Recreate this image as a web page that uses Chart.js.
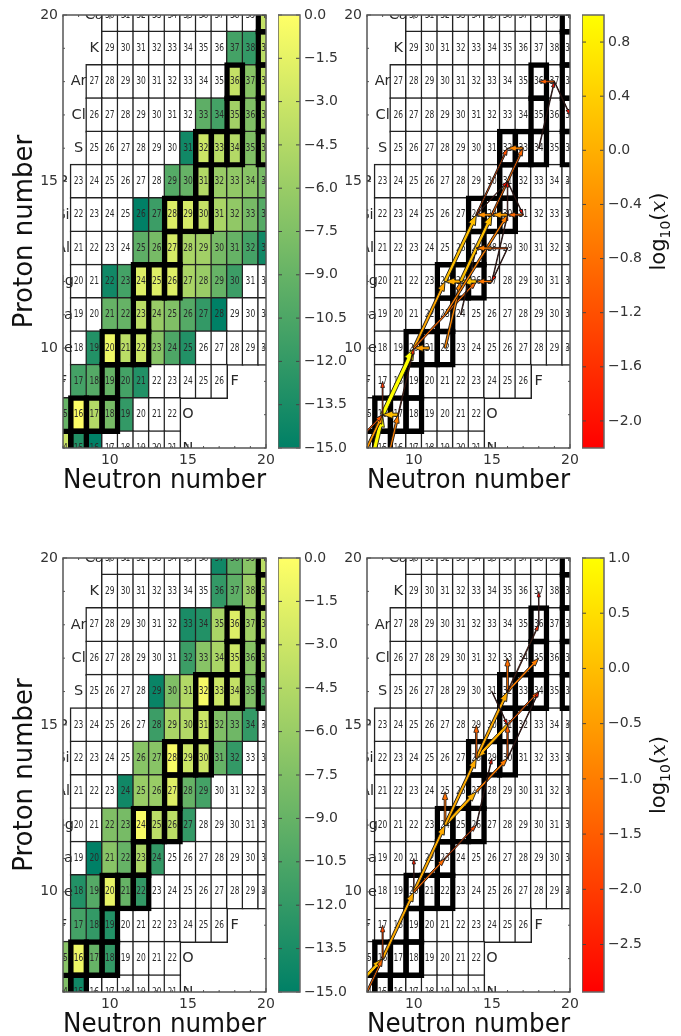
<!DOCTYPE html>
<html>
<head>
<meta charset="utf-8">
<script src="https://cdn.jsdelivr.net/npm/chart.js@4"></script>
<style>
  html, body { margin: 0; padding: 0; background: #fff; overflow: hidden; width: 681px; height: 1036px; }
  canvas { position: absolute; filter: blur(0.6px); }
</style>
</head>
<body>
<script>
// rows of the nuclide chart, top to bottom
const protons = [20, 19, 18, 17, 16, 15, 14, 13, 12, 11, 10, 9, 8, 7];
const firstNeutron = [10, 10, 9, 9, 9, 8, 8, 8, 8, 8, 8, 8, 7, 7];
const lastNeutron = [20, 20, 20, 20, 20, 20, 20, 20, 20, 20, 20, 17, 14, 14];

// stable isotopes get the heavy box
const stableN = [7, 8, 8, 9, 10, 10, 10, 11, 12, 12, 12, 13, 14, 14, 14, 15, 16, 16, 16, 17, 18, 20, 18, 20, 18, 20, 20, 20];
const stableZ = [7, 7, 8, 8, 8, 9, 10, 10, 10, 11, 12, 12, 12, 13, 14, 14, 14, 15, 16, 16, 16, 16, 17, 17, 18, 18, 19, 20];

const elementNames = ['Ca', 'K', 'Ar', 'Cl', 'S', 'P', 'Si', 'Al', 'Mg', 'Na', 'Ne', 'F', 'F', 'O', 'N'];
const elementN = [9, 9, 8, 8, 8, 7, 7, 7, 7, 7, 7, 7, 18, 15, 15];
const elementZ = [20, 19, 18, 17, 16, 15, 14, 13, 12, 11, 10, 9, 9, 8, 7];

// first coloured neutron number per row + log abundance
const topFirst = [20, 18, 18, 16, 15, 14, 12, 12, 10, 10, 9, 8, 7, 7];
const topValues = [
  [-3.5],
  [-11, -12, -4],
  [-3.5, -7, -4],
  [-9.5, -11, -5.5, -7.5, -5],
  [-14, -3, -4, -4.5, -7.5, -6],
  [-10, -9, -4.5, -6, -6.5, -7, -8],
  [-15, -11.5, -2, -2.5, -3.5, -5, -6.5, -8, -10],
  [-9.5, -8, -2.5, -5, -5.5, -8, -9, -11, -14],
  [-14, -11, -2, -2, -2, -5, -6, -9, -11.5],
  [-9, -9, -4, -6, -7.5, -10, -12, -15],
  [-13, -1, -4, -3, -7, -10.5, -13],
  [-11, -10, -9, -11, -13],
  [-9, -0.2, -4.5, -8, -12],
  [-3, -13, -15]
];
const bottomFirst = [17, 17, 15, 15, 13, 13, 12, 11, 10, 9, 8, 8, 7, 7];
const bottomValues = [
  [-14, -9.5, -7, -4],
  [-12, -9.5, -6, -4],
  [-13.5, -13, -5, -2, -5.5, -4],
  [-11.5, -7, -5, -3, -7, -5],
  [-14.5, -7.5, -4.5, -0.5, -3, -3.5, -7.5, -10],
  [-11.5, -5, -4.5, -3, -7.5, -8.5, -12],
  [-7, -7, -0.5, -3, -3, -9, -12],
  [-14, -6, -6, -2, -9, -11],
  [-7.5, -8, -0.5, -4, -4, -12],
  [-15, -7, -9, -5, -12],
  [-13, -10, -1.5, -9, -12],
  [-11, -12, -13],
  [-7, -1, -9, -12],
  [-7.5, -14]
];

// flow arrows: [N, Z] start, [N, Z] end, log10(x)
const topArrowFrom = [[7, 6], [6, 6], [6, 7], [8, 8], [9, 8], [9, 8], [8, 6], [8, 8], [10, 10], [11, 10], [10, 10], [12, 10], [13, 11], [15, 12], [13, 12], [14, 12], [15, 12], [12, 12], [13, 12], [12, 11], [15, 14], [16, 14], [17, 14], [16, 13], [15, 13], [16, 13], [14, 14], [17, 16], [15, 14], [14, 14], [16, 15], [16, 14], [19, 18], [18, 16], [19, 18]];
const topArrowTo = [[8, 8], [8, 8], [8, 8], [10, 10], [8, 8], [10, 10], [9, 8], [8, 9], [12, 12], [10, 10], [14, 12], [13, 12], [14, 13], [16, 14], [12, 12], [13, 12], [14, 12], [14, 14], [15, 14], [16, 14], [14, 14], [15, 14], [16, 14], [14, 13], [14, 13], [15, 12], [16, 16], [16, 16], [17, 16], [16, 15], [17, 14], [16, 15], [18, 18], [19, 18], [20, 17]];
const topArrowLog = [0.95, -0.3, -1.1, 1.0, 0.2, -1.6, -0.6, -1.5, -0.1, -0.2, -0.9, -0.5, -1.8, -2.0, 0.0, 0.3, -0.7, 0.2, 0.2, -0.6, -0.4, -0.2, -0.9, -1.1, -0.6, -2.0, -1.2, -0.5, -0.9, -2.0, -2.0, -2.0, -1.0, -2.0, -2.0];

const bottomArrowFrom = [[6, 7], [6, 6], [8, 8], [8, 8], [10, 10], [10, 10], [10, 10], [10, 10], [12, 12], [12, 12], [12, 12], [14, 13], [16, 15], [14, 14], [14, 14], [16, 14], [16, 15], [16, 16], [16, 16], [16, 16], [18, 18], [15, 16], [14, 12], [16, 14]];
const bottomArrowTo = [[8, 8], [8, 8], [10, 10], [8, 9], [10, 11], [12, 12], [14, 12], [12, 11], [12, 13], [14, 13], [14, 14], [16, 14], [14, 14], [16, 16], [14, 15], [16, 15], [18, 16], [16, 17], [18, 17], [18, 18], [18, 19], [16, 15], [15, 14], [18, 16]];
const bottomArrowLog = [0.0, -1.3, -0.3, -1.8, -2.5, -0.3, -1.8, -1.3, -1.2, -0.2, -0.3, -1.0, -0.2, -0.3, -1.4, -1.5, -1.5, -1.2, -1.0, -2.2, -2.8, -2.7, -2.7, -2.7];

// axes ticks
const majorTicks = [10, 15, 20];
const minorTicks = [7, 8, 9, 10, 11, 12, 13, 14, 15, 16, 17, 18, 19, 20];
const abundanceTicks = [0, -1.5, -3, -4.5, -6, -7.5, -9, -10.5, -12, -13.5, -15];
const topLogTicks = [0.8, 0.4, 0, -0.4, -0.8, -1.2, -1.6, -2];
const bottomLogTicks = [1, 0.5, 0, -0.5, -1, -1.5, -2, -2.5];

const FONT = "'DejaVu Sans'";
const CELL_W = 203 / 13;   // px per neutron
const CELL_H = 433 / 13;   // px per proton
const THICK = 4.8, THIN = 1.5;

function summer(v) {
  const t = Math.max(0, Math.min(1, (v + 15) / 15));
  return `rgb(${Math.round(255 * t)},${Math.round(127.5 + 127.5 * t)},102)`;
}
function autumn(v, lo, hi) {
  const t = Math.max(0, Math.min(1, (v - lo) / (hi - lo)));
  return `rgb(255,${Math.round(255 * t)},0)`;
}

function addCanvas(left, top, w, h) {
  const c = document.createElement('canvas');
  c.width = w; c.height = h;
  c.style.left = left + 'px';
  c.style.top = top + 'px';
  document.body.appendChild(c);
  return c;
}

// draws mass numbers, element names, arrows and the frame on top of the bars
const overlayPlugin = {
  id: 'overlay',
  afterDatasetsDraw(chart, args, opts) {
    const { ctx, chartArea: a, scales: { x, y } } = chart;
    ctx.save();
    ctx.beginPath();
    ctx.rect(a.left, a.top, a.right - a.left, a.bottom - a.top);
    ctx.clip();
    ctx.textAlign = 'center';
    ctx.textBaseline = 'middle';
    ctx.fillStyle = '#2a2a2a';
    protons.forEach((z, r) => {
      for (let n = firstNeutron[r]; n <= lastNeutron[r]; n++) {
        ctx.save();
        ctx.translate(x.getPixelForValue(n), y.getPixelForValue(z));
        ctx.scale(0.75, 1);
        ctx.font = `10px ${FONT}`;
        ctx.fillText(String(n + z), 0, 0);
        ctx.restore();
      }
    });
    ctx.font = `14.5px ${FONT}`;
    elementNames.forEach((name, i) => {
      ctx.fillText(name, x.getPixelForValue(elementN[i]), y.getPixelForValue(elementZ[i]));
    });
    if (opts.from) {
      opts.from.forEach((p, i) => drawArrow(ctx, x, y, p, opts.to[i], opts.log[i], opts.lo, opts.hi));
    }
    ctx.restore();

    // frame + inward ticks
    ctx.save();
    ctx.strokeStyle = '#555';
    ctx.lineWidth = 1.5;
    ctx.strokeRect(a.left, a.top, a.right - a.left, a.bottom - a.top);
    ctx.lineWidth = 1;
    ctx.beginPath();
    minorTicks.forEach(v => {
      const len = majorTicks.includes(v) ? 4 : 2;
      const px = x.getPixelForValue(v), py = y.getPixelForValue(v);
      ctx.moveTo(px, a.bottom); ctx.lineTo(px, a.bottom - len);
      ctx.moveTo(px, a.top); ctx.lineTo(px, a.top + len);
      ctx.moveTo(a.left, py); ctx.lineTo(a.left + len, py);
      ctx.moveTo(a.right, py); ctx.lineTo(a.right - len, py);
    });
    ctx.stroke();
    ctx.restore();
  }
};

function drawArrow(ctx, x, y, from, to, val, lo, hi) {
  const x0 = x.getPixelForValue(from[0]), y0 = y.getPixelForValue(from[1]);
  const x1 = x.getPixelForValue(to[0]), y1 = y.getPixelForValue(to[1]);
  const t = (val - lo) / (hi - lo);
  const w = Math.max(0.6, 4.2 * t);
  const headW = 1.7 * w + 2.2, headL = 4.5 + 1.8 * w;
  const len = Math.hypot(x1 - x0, y1 - y0);
  ctx.save();
  ctx.translate(x0, y0);
  ctx.rotate(Math.atan2(y1 - y0, x1 - x0));
  ctx.beginPath();
  ctx.moveTo(0, -w / 2);
  ctx.lineTo(len - headL, -w / 2);
  ctx.lineTo(len - headL, -headW / 2);
  ctx.lineTo(len, 0);
  ctx.lineTo(len - headL, headW / 2);
  ctx.lineTo(len - headL, w / 2);
  ctx.lineTo(0, w / 2);
  ctx.closePath();
  ctx.fillStyle = autumn(val, lo, hi);
  ctx.fill();
  ctx.strokeStyle = '#111';
  ctx.lineWidth = 0.8;
  ctx.stroke();
  ctx.restore();
}

function nuclideChart(left, top, plotH, first, values, yTitle, arrows) {
  const H = 500, padTop = 15;
  const canvas = addCanvas(left, top, 277, H);
  const cells = [], fills = [];
  protons.forEach((z, r) => {
    for (let n = firstNeutron[r]; n <= lastNeutron[r]; n++) {
      const v = values && n >= first[r] ? values[r][n - first[r]] : undefined;
      cells.push({ x: n, y: [z - 0.5 - THIN / 2 / CELL_H, z + 0.5 + THIN / 2 / CELL_H] });
      fills.push(v === undefined ? '#ffffff' : summer(v));
    }
  });
  const stable = stableN.map((n, i) => ({
    x: n,
    y: [stableZ[i] - 0.5 - THICK / 2 / CELL_H, stableZ[i] + 0.5 + THICK / 2 / CELL_H]
  }));
  return new Chart(canvas, {
    type: 'bar',
    data: {
      datasets: [
        {
          data: stable, order: 0, clip: 0, barThickness: CELL_W + THICK,
          backgroundColor: 'rgba(0,0,0,0)', borderColor: '#000', borderWidth: THICK, borderSkipped: false
        },
        {
          data: cells, order: 1, clip: 0, barThickness: CELL_W + THIN,
          backgroundColor: fills, borderColor: '#222', borderWidth: THIN, borderSkipped: false
        }
      ]
    },
    options: {
      responsive: false,
      animation: false,
      layout: { padding: { top: padTop, right: 11, left: 0, bottom: 0 } },
      plugins: {
        legend: { display: false },
        tooltip: { enabled: false },
        overlay: arrows || {}
      },
      datasets: { bar: { grouped: false } },
      scales: {
        x: {
          type: 'linear', min: 7, max: 20, offset: false,
          grid: { display: false, drawTicks: false },
          border: { display: false },
          afterBuildTicks: s => { s.ticks = majorTicks.map(v => ({ value: v })); },
          afterFit: s => { s.height = H - padTop - plotH; s.paddingLeft = s.paddingRight = 0; },
          ticks: { padding: 4, maxRotation: 0, autoSkip: false, color: '#333', font: { family: 'DejaVu Sans', size: 14 } },
          title: { display: true, text: 'Neutron number', color: '#111', padding: { top: 0, bottom: top > 100 ? 2 : 3 }, font: { family: 'DejaVu Sans', size: 26 } }
        },
        y: {
          type: 'linear', min: 7, max: 20,
          grid: { display: false, drawTicks: false },
          border: { display: false },
          afterBuildTicks: s => { s.ticks = majorTicks.map(v => ({ value: v })); },
          afterFit: s => { s.width = 63; s.paddingTop = s.paddingBottom = 0; },
          ticks: { padding: 5, autoSkip: false, color: '#333', font: { family: 'DejaVu Sans', size: 14 } },
          title: { display: yTitle, text: 'Proton number', color: '#111', padding: { top: 10, bottom: 0 }, font: { family: 'DejaVu Sans', size: 26 } }
        }
      }
    },
    plugins: [overlayPlugin]
  });
}

// writes log10(x) bottom to top beside the colour bar
const logTitlePlugin = {
  id: 'logTitle',
  afterDraw(chart, args, opts) {
    if (!opts.show) return;
    const { ctx, chartArea: a } = chart;
    const parts = [
      ['log', `21px ${FONT}`, 0], ['10', `14px ${FONT}`, 5], ['(', `21px ${FONT}`, 0],
      ['x', `italic 21px 'DejaVu Serif'`, 0], [')', `21px ${FONT}`, 0]
    ];
    ctx.save();
    ctx.translate(76, (a.top + a.bottom) / 2);
    ctx.rotate(-Math.PI / 2);
    ctx.textBaseline = 'alphabetic';
    ctx.fillStyle = '#111';
    let total = 0;
    parts.forEach(p => { ctx.font = p[1]; total += ctx.measureText(p[0]).width; });
    let pos = -total / 2;
    parts.forEach(p => {
      ctx.font = p[1];
      ctx.fillText(p[0], pos, 7 + p[2]);
      pos += ctx.measureText(p[0]).width;
    });
    ctx.restore();
  }
};

const barTicksPlugin = {
  id: 'barTicks',
  afterDraw(chart) {
    const { ctx, chartArea: a, scales: { y } } = chart;
    ctx.save();
    ctx.strokeStyle = '#444';
    ctx.lineWidth = 1;
    ctx.beginPath();
    y.ticks.forEach(t => {
      const py = y.getPixelForValue(t.value);
      ctx.moveTo(a.left, py); ctx.lineTo(a.left + 4, py);
      ctx.moveTo(a.right, py); ctx.lineTo(a.right - 4, py);
    });
    ctx.stroke();
    ctx.strokeStyle = '#666';
    ctx.lineWidth = 1.5;
    ctx.strokeRect(a.left, a.top, a.right - a.left, a.bottom - a.top);
    ctx.restore();
  }
};

function colourBar(left, top, plotH, lo, hi, ticks, cLo, cHi, hasTitle) {
  const H = 500, padTop = 15, W = 99;
  const canvas = addCanvas(left, top, W, H);
  return new Chart(canvas, {
    type: 'bar',
    data: {
      labels: ['range'],
      datasets: [{
        data: [[lo, hi]],
        categoryPercentage: 1, barPercentage: 1, clip: 0,
        backgroundColor: c => {
          const a = c.chart.chartArea;
          if (!a) return cLo;
          const g = c.chart.ctx.createLinearGradient(0, a.bottom, 0, a.top);
          g.addColorStop(0, cLo);
          g.addColorStop(1, cHi);
          return g;
        }
      }]
    },
    options: {
      responsive: false,
      animation: false,
      layout: { padding: { top: padTop, bottom: H - padTop - plotH, left: 0, right: 0 } },
      plugins: { legend: { display: false }, tooltip: { enabled: false }, logTitle: { show: hasTitle } },
      scales: {
        x: { display: false },
        y: {
          position: 'right', min: lo, max: hi,
          grid: { display: false, drawTicks: false },
          border: { display: false },
          afterBuildTicks: s => { s.ticks = ticks.map(v => ({ value: v })); },
          afterFit: s => { s.width = W - 22; s.paddingTop = s.paddingBottom = 0; },
          ticks: {
            padding: 4, autoSkip: false, color: '#333', font: { family: 'DejaVu Sans', size: 14 },
            callback: v => v.toFixed(1).replace('-', '\u2212')
          }
        }
      }
    },
    plugins: [barTicksPlugin, logTitlePlugin]
  });
}

const TOP_H = 433, BOT_H = 434;
const TOP_Y = 0, BOT_Y = 543;

colourBar(278, TOP_Y, TOP_H, -15, 0, abundanceTicks, '#008066', '#ffff66', false);
colourBar(278, BOT_Y, BOT_H, -15, 0, abundanceTicks, '#008066', '#ffff66', false);

nuclideChart(0, TOP_Y, TOP_H, topFirst, topValues, true, null);
nuclideChart(0, BOT_Y, BOT_H, bottomFirst, bottomValues, true, null);
nuclideChart(304, TOP_Y, TOP_H, null, null, false, { from: topArrowFrom, to: topArrowTo, log: topArrowLog, lo: -2.2, hi: 1 });
nuclideChart(304, BOT_Y, BOT_H, null, null, false, { from: bottomArrowFrom, to: bottomArrowTo, log: bottomArrowLog, lo: -2.93, hi: 1 });

colourBar(582, TOP_Y, TOP_H, -2.2, 1, topLogTicks, '#ff0000', '#ffff00', true);
colourBar(582, BOT_Y, BOT_H, -2.93, 1, bottomLogTicks, '#ff0000', '#ffff00', true);
</script>
</body>
</html>
